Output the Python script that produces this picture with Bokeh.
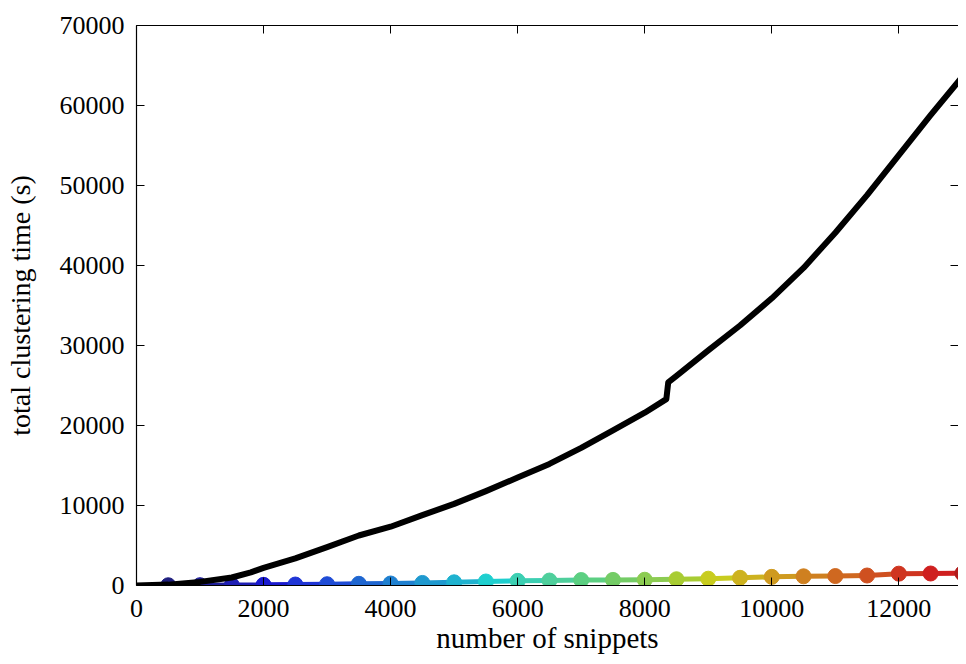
from bokeh.plotting import figure
from bokeh.models import Range1d, FixedTicker, LinearAxis, BasicTickFormatter
from bokeh.embed import file_html
from bokeh.resources import INLINE

# ---- data ----
total_x = [0, 500, 1000, 1500, 1800, 2000, 2500, 3000, 3500, 4000, 4500, 5000, 5500,
           6000, 6500, 7000, 7500, 8000, 8340, 8370, 8500, 9000, 9500, 10000,
           10500, 11000, 11500, 12000, 12500, 13000, 13100]
total_y = [0, 110, 450, 1000, 1650, 2200, 3400, 4800, 6250, 7350, 8800, 10200, 11800,
           13500, 15200, 17200, 19400, 21600, 23300, 25400, 26200, 29400, 32500,
           35900, 39700, 44100, 48800, 53800, 58800, 63600, 64500]

snip_x = [500, 1000, 1500, 2000, 2500, 3000, 3500, 4000, 4500, 5000, 5500, 6000,
          6500, 7000, 7500, 8000, 8500, 9000, 9500, 10000, 10500, 11000, 11500,
          12000, 12500, 13000]
snip_y = [30, 40, 60, 80, 120, 160, 210, 250, 320, 400, 500, 580, 620, 680, 700,
          720, 780, 850, 960, 1080, 1150, 1180, 1250, 1480, 1500, 1520]

x_ticks = [0, 2000, 4000, 6000, 8000, 10000, 12000]
y_ticks = [0, 10000, 20000, 30000, 40000, 50000, 60000, 70000]

# ---- style ----
point_colors = ["#1f1f7f", "#1f1f9a", "#1f1fb4", "#1a1acf", "#1f35d6", "#1f4cd6",
                "#1f66d0", "#1f80d0", "#1f99cf", "#1fb2cf", "#1fcfcf", "#3ccfb2",
                "#4fcf9c", "#5ccf82", "#74cc66", "#8ccc52", "#a8cc33", "#c8cc1f",
                "#cdb21f", "#cf9a1f", "#cf8020", "#cf6820", "#cf5020", "#cf3520",
                "#cf1f1f", "#b01a1a"]
FONT = "Liberation Serif"
TICK_SIZE = "26px"
LABEL_SIZE = "28px"

p = figure(width=958, height=656, output_backend="svg", toolbar_location=None,
           x_range=Range1d(0, 12939), y_range=Range1d(0, 70000),
           min_border_left=136, min_border_top=25, min_border_bottom=70,
           min_border_right=0)
p.outline_line_color = None
p.grid.visible = False
p.background_fill_color = "white"
p.border_fill_color = "white"

for ax in (p.xaxis[0], p.yaxis[0]):
    ax.axis_line_color = "black"
    ax.axis_line_width = 1.2
    ax.major_tick_in = 8
    ax.major_tick_out = 0
    ax.minor_tick_line_color = None
    ax.major_label_text_font = FONT
    ax.major_label_text_font_size = TICK_SIZE
    ax.major_label_text_color = "black"
    ax.axis_label_text_font = FONT
    ax.axis_label_text_font_style = "normal"
    ax.axis_label_text_color = "black"
    ax.formatter = BasicTickFormatter(use_scientific=False)

p.xaxis[0].ticker = FixedTicker(ticks=x_ticks)
p.yaxis[0].ticker = FixedTicker(ticks=y_ticks)
p.xaxis[0].axis_label = "number of snippets"
p.yaxis[0].axis_label = "total clustering time (s)"
p.xaxis[0].axis_label_text_font_size = "29px"
p.yaxis[0].axis_label_text_font_size = LABEL_SIZE
p.xaxis[0].major_label_standoff = 14
p.yaxis[0].major_label_standoff = 12
p.xaxis[0].axis_label_standoff = 2
p.yaxis[0].axis_label_standoff = 21

top = LinearAxis(ticker=FixedTicker(ticks=x_ticks), major_tick_in=8, major_tick_out=0,
                 minor_tick_line_color=None, major_label_text_font_size="0px",
                 major_label_standoff=0, axis_line_color="black", axis_line_width=1.2)
p.add_layout(top, "above")
right = LinearAxis(ticker=FixedTicker(ticks=y_ticks), major_tick_in=8, major_tick_out=0,
                   minor_tick_line_color=None, major_label_text_font_size="0px",
                   major_label_standoff=0, axis_line_color=None)
p.add_layout(right, "right")

# colored series: segments coloured by start point, then markers
p.segment(x0=snip_x[:-1], y0=snip_y[:-1], x1=snip_x[1:], y1=snip_y[1:],
          line_color=point_colors[:-1], line_width=5)
p.scatter(x=snip_x, y=snip_y, size=15, fill_color=point_colors,
          line_color=point_colors, marker="circle")

# black total line
p.line(total_x, total_y, line_color="black", line_width=6, line_join="round")

open("out.html", "w").write(file_html(p, INLINE))
